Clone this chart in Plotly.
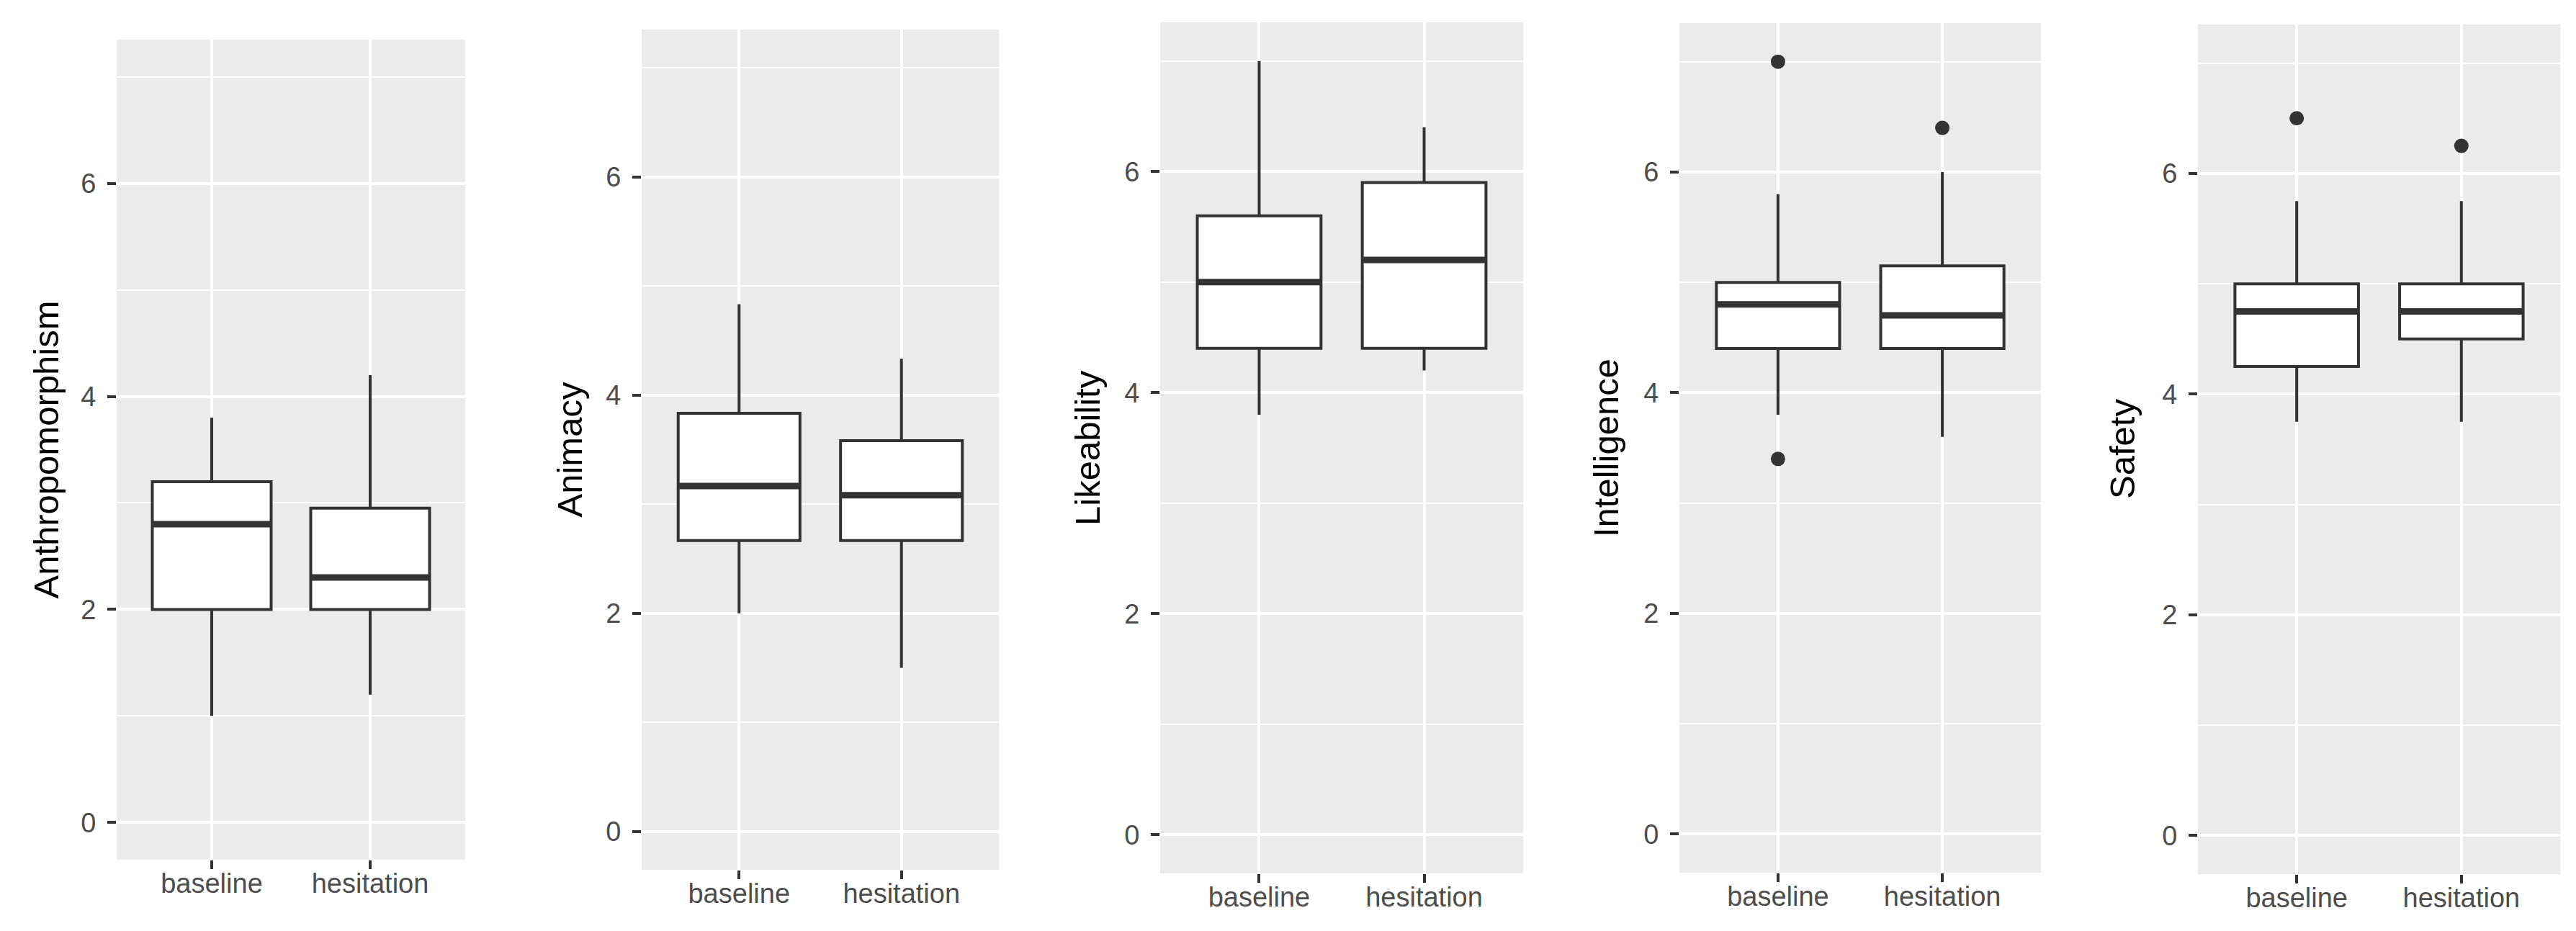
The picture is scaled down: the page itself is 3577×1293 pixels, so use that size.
import plotly.graph_objects as go
from plotly.subplots import make_subplots

# five rating scales, each compared for the two robot conditions
groups = ["baseline", "hesitation"]
measures = ["Anthropomorphism", "Animacy", "Likeability", "Intelligence", "Safety"]

# box statistics, [baseline, hesitation] per measure
lower_whisker = [[1.0, 1.2], [2.0, 1.5], [3.8, 4.2], [3.8, 3.6], [3.75, 3.75]]
q1 = [[2.0, 2.0], [2.667, 2.667], [4.4, 4.4], [4.4, 4.4], [4.25, 4.5]]
median = [[2.8, 2.3], [3.167, 3.083], [5.0, 5.2], [4.8, 4.7], [4.75, 4.75]]
q3 = [[3.2, 2.95], [3.833, 3.583], [5.6, 5.9], [5.0, 5.15], [5.0, 5.0]]
upper_whisker = [[3.8, 4.2], [4.833, 4.333], [7.0, 6.4], [5.8, 6.0], [5.75, 5.75]]
outliers = [[[], []], [[], []], [[], []], [[7.0, 3.4], [6.4]], [[6.5], [6.25]]]

y_ticks = [0, 2, 4, 6]

# panel placement in pixels (ggarrange-like row of separate plots)
W, H = 3577, 1293
panel_left = [154, 883, 1603, 2324, 3044]
panel_right = [638, 1379, 2107, 2826, 3547]
panel_top = [47, 33, 23, 24, 26]
panel_bottom = [1186, 1200, 1205, 1204, 1206]
title_x = [55, 782, 1502, 2222, 2939]

INK = "#333333"
FONT = "Liberation Sans, Arial, Helvetica, sans-serif"

fig = make_subplots(rows=1, cols=5)

for i, name in enumerate(measures):
    col = i + 1
    fig.add_trace(go.Box(
        x=groups, q1=q1[i], median=median[i], q3=q3[i],
        lowerfence=lower_whisker[i], upperfence=upper_whisker[i],
        width=0.75, whiskerwidth=0, boxpoints=False, fillcolor="white",
        line=dict(color=INK, width=4), hoverinfo="skip", showlegend=False,
    ), row=1, col=col)
    # thicker median bar, like ggplot's fatten=2
    fig.add_trace(go.Box(
        x=groups, q1=median[i], median=median[i], q3=median[i],
        lowerfence=median[i], upperfence=median[i],
        width=0.75, whiskerwidth=0, boxpoints=False, fillcolor="rgba(0,0,0,0)",
        line=dict(color=INK, width=9), hoverinfo="skip", showlegend=False,
    ), row=1, col=col)
    ox, oy = [], []
    for g, pts in zip(groups, outliers[i]):
        ox += [g] * len(pts)
        oy += pts
    if oy:
        fig.add_trace(go.Scatter(
            x=ox, y=oy, mode="markers",
            marker=dict(color=INK, size=20), hoverinfo="skip", showlegend=False,
        ), row=1, col=col)

    fig.update_xaxes(
        domain=[panel_left[i] / W, panel_right[i] / W],
        type="category", categoryorder="array", categoryarray=groups,
        range=[-0.6, 1.6], showgrid=True, gridcolor="white", gridwidth=4,
        zeroline=False, showline=False,
        ticks="outside", ticklen=12, tickwidth=4, tickcolor=INK,
        ticklabelstandoff=-13,
        tickfont=dict(size=38, color="#4D4D4D", family=FONT),
        row=1, col=col,
    )
    fig.update_yaxes(
        domain=[1 - panel_bottom[i] / H, 1 - panel_top[i] / H],
        range=[-0.35, 7.35], tickvals=y_ticks,
        showgrid=True, gridcolor="white", gridwidth=4,
        minor=dict(dtick=1, tick0=0, showgrid=True, gridcolor="white", gridwidth=2),
        zeroline=False, showline=False,
        ticks="outside", ticklen=12, tickwidth=4, tickcolor=INK,
        ticklabelstandoff=8,
        tickfont=dict(size=38, color="#4D4D4D", family=FONT),
        row=1, col=col,
    )
    fig.add_annotation(
        text=name, textangle=-90, xref="paper", yref="paper",
        x=title_x[i] / W, y=1 - (panel_top[i] + panel_bottom[i]) / 2 / H,
        xanchor="center", yanchor="middle", showarrow=False,
        font=dict(size=49, color="black", family=FONT),
    )

fig.update_layout(
    width=W, height=H,
    margin=dict(l=0, r=0, t=0, b=0),
    paper_bgcolor="white", plot_bgcolor="#EBEBEB",
    boxmode="overlay", showlegend=False,
    font=dict(family=FONT),
)

fig.write_html("out.html")
